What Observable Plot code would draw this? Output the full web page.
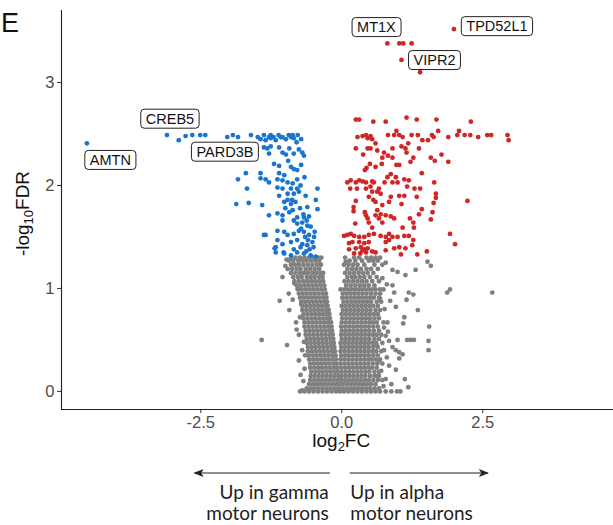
<!DOCTYPE html>
<html><head><meta charset="utf-8">
<script src="https://cdn.jsdelivr.net/npm/d3@7"></script>
<script src="https://cdn.jsdelivr.net/npm/@observablehq/plot@0.6"></script>
<style>
body{margin:0;background:#fff;}
#chart{width:613px;height:525px;}
</style>
</head><body><div id="chart"></div>
<script>
// ---------- DATA (log2FC, -log10FDR) ----------
const xTicks = [-2.5, 0, 2.5];
const yTicks = [0, 1, 2, 3];

// significant, up in gamma (blue)
const upGamma = [
[-4.52,2.41],
[-3.10,2.49],[-2.89,2.44],[-2.77,2.48],[-2.65,2.49],[-2.51,2.49],[-2.42,2.49],[-2.03,2.47],[-1.93,2.49],[-1.84,2.47],
[-1.61,2.49],[-1.49,2.47],[-1.38,2.49],[-1.29,2.47],[-1.21,2.47],[-1.08,2.47],[-0.90,2.47],[-0.78,2.49],
[-1.26,2.49],[-1.12,2.49],[-1.05,2.47],[-0.94,2.49],[-0.87,2.49],
[-1.44,2.45],[-1.35,2.44],[-1.26,2.46],[-1.17,2.44],[-1.08,2.47],[-0.99,2.45],[-0.85,2.46],
[-1.38,2.37],[-1.32,2.36],[-1.26,2.38],[-1.11,2.37],[-0.93,2.36],[-0.76,2.35],[-0.70,2.32],
[-1.29,2.31],[-1.05,2.32],[-0.99,2.30],[-0.85,2.31],[-0.67,2.29],
[-1.20,2.21],[-1.11,2.19],[-0.90,2.18],[-0.85,2.16],[-0.79,2.15],[-1.11,2.12],[-1.02,2.10],[-1.44,2.12],[-1.70,2.12],
[-1.84,2.06],[-1.44,2.07],[-1.35,2.06],[-1.29,2.03],[-1.14,2.06],[-1.05,2.05],[-0.96,2.03],[-0.87,2.02],[-0.79,2.06],
[-1.68,1.97],[-1.14,1.98],[-1.05,1.97],[-0.90,1.97],[-0.79,1.97],[-0.43,1.97],
[-1.11,1.90],[-0.96,1.92],[-0.85,1.92],[-0.76,1.94],[-0.64,1.90],
[-1.87,1.82],[-1.65,1.83],[-1.41,1.81],[-1.02,1.84],[-0.96,1.86],[-0.90,1.82],[-0.82,1.84],[-0.46,1.86],[-0.61,1.79],
[-1.29,1.71],[-1.14,1.73],[-1.05,1.71],[-0.93,1.74],[-0.87,1.76],[-0.79,1.69],[-0.67,1.69],[-0.43,1.77],
[-1.05,1.66],[-0.85,1.66],[-0.79,1.63],[-0.70,1.64],[-0.61,1.61],[-0.55,1.60],
[-1.35,1.52],[-1.14,1.56],[-1.02,1.55],[-0.96,1.52],[-0.85,1.53],[-0.76,1.56],[-0.67,1.55],[-0.58,1.52],[-0.49,1.50],
[-1.14,1.47],[-1.05,1.43],[-0.90,1.45],[-0.79,1.47],[-0.70,1.43],[-0.61,1.42],[-0.52,1.45],[-1.17,1.40],
[-1.17,1.35],[-1.02,1.34],[-0.79,1.35],[-0.67,1.34],[-0.55,1.32],[-0.46,1.31],
[-0.72,1.58],[-0.65,1.50],[-0.60,1.47],[-0.57,1.38],[-0.63,1.36],[-0.50,1.40],[-0.48,1.55],[-0.73,1.40],[-0.85,1.38],
[-0.90,1.32],[-0.62,1.66],[-0.68,1.72],[-0.74,1.78],[-0.58,1.70],[-1.00,1.78],[-0.88,1.86],[-0.73,2.00],[-0.66,2.08],
[-0.95,2.24],[-0.72,2.20],[-0.80,2.42],[-0.72,2.45],[-1.38,1.52],[-1.19,1.39],[-1.03,1.35]
];

// significant, up in alpha (red)
const upAlpha = [
[1.99,3.52],[0.81,3.38],[1.02,3.38],[1.09,3.38],[1.24,3.38],[1.06,3.22],[1.39,3.10],
[0.25,2.64],[0.31,2.64],[0.56,2.62],[0.78,2.62],[1.15,2.66],[1.33,2.64],[1.68,2.64],[2.29,2.62],
[0.28,2.47],[0.37,2.48],[0.43,2.49],[0.46,2.46],[0.51,2.48],[0.54,2.45],[0.82,2.49],[0.93,2.49],[0.97,2.53],[1.02,2.49],
[1.08,2.47],[1.24,2.49],[1.35,2.49],[1.43,2.44],[1.53,2.44],[1.60,2.49],[1.63,2.47],[1.71,2.53],[1.89,2.47],[2.05,2.49],
[2.08,2.53],[2.18,2.49],[2.28,2.49],[2.42,2.47],[2.58,2.49],[2.65,2.49],[2.94,2.49],[2.96,2.44],
[0.60,2.41],[0.25,2.36],[0.46,2.36],[0.51,2.36],[0.63,2.34],[0.75,2.32],[0.90,2.36],[1.06,2.38],[1.13,2.36],[1.18,2.41],
[1.37,2.36],[0.38,2.30],[0.72,2.27],[0.82,2.29],[0.90,2.27],[1.15,2.32],[1.27,2.27],[1.58,2.27],[1.65,2.24],[1.77,2.30],[1.89,2.23],
[0.50,2.21],[0.97,2.20],[1.02,2.20],[0.60,2.18],[0.71,2.21],[0.41,2.15],[0.44,2.17],[1.22,2.23],
[0.87,2.11],[0.81,2.08],[0.96,2.08],[1.11,2.06],[1.19,2.05],[1.42,2.12],[0.10,2.03],[0.16,2.05],[0.25,2.03],[0.31,2.05],
[0.37,2.04],[0.43,2.03],[0.54,2.04],[0.57,2.03],[0.76,2.03],[0.90,2.03],[0.99,2.03],[1.64,2.03],
[0.15,1.97],[0.27,1.97],[0.43,1.97],[0.51,1.99],[0.66,1.97],[0.54,1.94],[0.63,1.94],[1.16,1.99],[1.29,1.97],[1.39,1.97],
[1.67,1.92],[1.67,1.88],[0.48,1.89],[0.56,1.86],[0.69,1.92],[0.87,1.89],[1.02,1.90],[1.11,1.90],[1.33,1.89],[0.25,1.85],
[0.60,1.84],[0.72,1.81],[0.84,1.84],[1.06,1.82],[1.42,1.77],[1.63,1.83],[2.23,1.85],
[0.21,1.79],[0.21,1.75],[0.41,1.74],[0.43,1.71],[0.63,1.76],[0.69,1.72],[0.60,1.71],[0.46,1.68],[0.66,1.68],[0.78,1.71],
[0.87,1.70],[0.93,1.68],[1.21,1.68],[1.27,1.64],[1.37,1.72],[1.61,1.74],[1.58,1.67],[0.24,1.63],[0.48,1.64],[0.54,1.59],
[0.72,1.64],[1.28,1.59],[1.08,1.59],
[0.04,1.51],[0.10,1.52],[0.16,1.53],[0.22,1.51],[0.31,1.50],[0.40,1.50],[0.48,1.52],[0.57,1.53],[0.69,1.51],[0.78,1.50],
[0.84,1.53],[0.90,1.50],[0.99,1.50],[1.11,1.51],[1.19,1.51],[1.27,1.47],[1.92,1.53],[2.01,1.43],[0.13,1.44],[0.19,1.45],
[0.31,1.45],[0.40,1.44],[0.48,1.45],[0.78,1.45],[0.84,1.47],
[0.13,1.38],[0.25,1.39],[0.34,1.40],[0.40,1.38],[0.46,1.39],[0.54,1.36],[0.60,1.35],[0.78,1.37],[0.93,1.39],[1.02,1.40],
[1.13,1.39],[1.25,1.42],[0.22,1.34],[0.33,1.34],[0.43,1.35],[1.05,1.33],[1.34,1.33],[1.51,1.36],[0.37,1.37]
];

// not significant (grey): rows of [-log10FDR, [log2FC ...]]
const notSigRows = [
[1.30,[-0.90,-0.82,-0.74,-0.66,-0.58,-0.50,-0.42,-0.36,0.06,0.22,0.31,0.44,0.52,0.60,0.68]],
[1.27,[-0.94,-0.86,-0.77,-0.70,-0.63,-0.55,-0.47,-0.40,0.14,0.24,0.36,0.48,0.56,0.64]],
[1.23,[-0.90,-0.83,-0.76,-0.68,-0.60,-0.52,-0.44,-0.37,0.04,0.12,0.20,0.28,0.40,0.58,0.72]],
[1.19,[-0.96,-0.88,-0.80,-0.73,-0.64,-0.56,-0.48,-0.40,0.10,0.18,0.26,0.34,0.44,0.52,0.64]],
[1.15,[-0.90,-0.82,-0.74,-0.67,-0.60,-0.52,-0.45,-0.38,-0.33,0.06,0.14,0.22,0.30,0.38,0.46,0.56]],
[1.11,[-0.86,-0.78,-0.71,-0.62,-0.55,-0.48,-0.40,-0.34,0.10,0.18,0.24,0.32,0.40,0.50,0.62]],
[1.07,[-0.84,-0.76,-0.68,-0.61,-0.54,-0.47,-0.40,-0.33,0.05,0.12,0.20,0.28,0.36,0.44,0.54,0.66]],
[1.03,[-0.80,-0.73,-0.66,-0.59,-0.52,-0.45,-0.38,-0.31,0.08,0.16,0.24,0.32,0.40,0.48,0.58]],
[0.99,[-0.78,-0.71,-0.64,-0.57,-0.50,-0.43,-0.36,-0.30,-0.02,0.05,0.12,0.18,0.24,0.30,0.36,0.42,0.48,0.54,0.60,0.68,0.74]],
[0.95,[-0.76,-0.69,-0.62,-0.55,-0.48,-0.41,-0.34,-0.28,0.02,0.09,0.16,0.23,0.30,0.37,0.44,0.52,0.60,0.68]],
[0.91,[-0.74,-0.67,-0.60,-0.53,-0.46,-0.39,-0.32,-0.27,0.01,0.08,0.15,0.22,0.29,0.36,0.43,0.50,0.57,0.66]],
[0.87,[-0.72,-0.65,-0.58,-0.51,-0.44,-0.37,-0.30,-0.26,0.03,0.10,0.17,0.24,0.31,0.38,0.45,0.52,0.62,0.70]],
[0.83,[-0.70,-0.63,-0.56,-0.49,-0.42,-0.35,-0.28,-0.25,0.00,0.07,0.14,0.21,0.28,0.35,0.42,0.49,0.56,0.64]],
[0.79,[-0.70,-0.63,-0.56,-0.49,-0.42,-0.35,-0.28,-0.23,0.02,0.09,0.16,0.23,0.30,0.37,0.44,0.51,0.60,0.68]],
[0.75,[-0.68,-0.61,-0.54,-0.47,-0.40,-0.33,-0.27,-0.22,0.00,0.07,0.14,0.21,0.28,0.35,0.42,0.49,0.56,0.63]],
[0.71,[-0.68,-0.61,-0.54,-0.47,-0.40,-0.33,-0.26,-0.21,0.01,0.08,0.15,0.22,0.29,0.36,0.43,0.50,0.58,0.66]],
[0.67,[-0.66,-0.59,-0.52,-0.45,-0.38,-0.31,-0.24,-0.19,0.00,0.07,0.14,0.21,0.28,0.35,0.42,0.49,0.55,0.62,0.74]],
[0.63,[-0.66,-0.59,-0.52,-0.45,-0.38,-0.31,-0.24,-0.18,-0.01,0.06,0.13,0.20,0.27,0.34,0.41,0.48,0.56,0.64]],
[0.59,[-0.64,-0.57,-0.50,-0.43,-0.36,-0.29,-0.22,-0.17,0.00,0.07,0.14,0.21,0.28,0.35,0.42,0.49,0.57,0.66]],
[0.55,[-0.64,-0.57,-0.50,-0.43,-0.36,-0.29,-0.22,-0.16,-0.01,0.06,0.13,0.20,0.27,0.34,0.41,0.48,0.55,0.62,0.70]],
[0.51,[-0.62,-0.55,-0.48,-0.41,-0.34,-0.27,-0.20,-0.15,0.00,0.07,0.14,0.21,0.28,0.35,0.42,0.49,0.58,0.66]],
[0.47,[-0.62,-0.55,-0.48,-0.41,-0.34,-0.27,-0.20,-0.14,-0.02,0.05,0.12,0.19,0.26,0.33,0.40,0.47,0.54,0.61,0.72]],
[0.43,[-0.60,-0.53,-0.46,-0.39,-0.32,-0.25,-0.18,-0.13,-0.01,0.06,0.13,0.20,0.27,0.34,0.41,0.48,0.56,0.64]],
[0.39,[-0.60,-0.53,-0.46,-0.39,-0.32,-0.25,-0.18,-0.12,-0.02,0.05,0.12,0.19,0.26,0.33,0.40,0.47,0.54,0.61,0.70]],
[0.35,[-0.58,-0.51,-0.44,-0.37,-0.30,-0.23,-0.16,-0.11,-0.01,0.06,0.13,0.20,0.27,0.34,0.41,0.48,0.56,0.64]],
[0.31,[-0.58,-0.51,-0.44,-0.37,-0.30,-0.23,-0.16,-0.10,-0.02,0.05,0.12,0.19,0.26,0.33,0.40,0.47,0.53,0.60,0.68]],
[0.27,[-0.56,-0.49,-0.42,-0.35,-0.28,-0.21,-0.14,-0.09,-0.02,0.05,0.12,0.19,0.26,0.33,0.40,0.47,0.55,0.63,0.72]],
[0.23,[-0.56,-0.49,-0.42,-0.35,-0.28,-0.21,-0.14,-0.08,-0.01,0.06,0.13,0.20,0.27,0.34,0.41,0.48,0.54,0.62]],
[0.19,[-0.54,-0.47,-0.40,-0.33,-0.26,-0.19,-0.12,-0.07,0.00,0.07,0.14,0.21,0.28,0.35,0.42,0.49,0.58,0.66]],
[0.15,[-0.55,-0.48,-0.41,-0.34,-0.27,-0.20,-0.13,-0.06,0.00,0.07,0.14,0.21,0.28,0.35,0.42,0.50,0.58,0.66]],
[0.11,[-0.56,-0.49,-0.42,-0.35,-0.28,-0.21,-0.14,-0.07,-0.01,0.06,0.13,0.20,0.27,0.34,0.41,0.48,0.56,0.64,0.72]],
[0.07,[-0.58,-0.51,-0.44,-0.37,-0.30,-0.23,-0.16,-0.09,-0.03,0.03,0.10,0.17,0.24,0.31,0.38,0.45,0.52,0.60]],
[0.03,[-0.62,-0.55,-0.48,-0.41,-0.34,-0.27,-0.20,-0.13,-0.06,0.01,0.08,0.15,0.22,0.29,0.36,0.43,0.50,0.58,0.66]],
[0.00,[-0.74,-0.66,-0.58,-0.50,-0.42,-0.34,-0.26,-0.18,-0.10,-0.03,0.04,0.12,0.20,0.28,0.36,0.44,0.52,0.60,0.68,0.78,0.88,0.98,1.04]]
];
const notSigExtra = [
[0.07,1.26],[0.90,1.18],[0.99,1.16],[1.13,1.13],[1.31,1.18],[1.52,1.26],[1.58,1.22],[0.90,1.03],[0.93,0.96],[1.19,0.96],
[1.27,0.94],[1.15,0.89],[1.87,0.96],[1.92,0.99],[2.67,0.96],[1.35,0.79],[0.96,0.82],[1.11,0.72],[1.09,0.66],[1.55,0.63],
[0.99,0.50],[1.16,0.50],[1.22,0.50],[1.28,0.50],[1.54,0.49],[1.54,0.40],[0.90,0.43],[0.96,0.40],[1.02,0.38],[1.08,0.36],
[1.02,0.32],[0.84,0.25],[0.96,0.21],[1.12,0.12],[1.18,0.04],[0.88,0.07],[0.78,0.12],[0.86,0.88],[0.81,0.67],[0.75,0.62],
[0.78,0.54],[0.84,0.49],[0.75,0.40],[0.72,1.10],[0.78,1.25],[0.80,1.04],[0.66,0.30],[0.70,0.20],[0.64,0.75],[0.68,0.90],
[0.62,0.45],[0.63,0.15],[0.80,0.33],[0.76,0.80],[0.82,0.58],[0.74,0.05],
[-1.42,0.50],[-0.97,0.45],[-1.05,1.11],[-1.10,0.88],[-0.94,0.95],[-0.93,0.79],[-0.87,0.89],[-0.81,0.67],[-0.76,0.30],
[-0.73,0.16],[-0.70,0.01],[-0.80,0.60],[-0.76,0.55],[-0.74,0.72],[-0.70,0.40],[-0.68,0.10],[-0.72,0.85],[-1.00,1.22],
[-0.98,1.28],[-0.66,0.22],[-0.84,1.05],[-0.78,1.00],[-0.67,0.48],[-0.65,0.35]
];

// labelled genes
const labelGenes = ["AMTN","CREB5","PARD3B","MT1X","VIPR2","TPD52L1"];
const labelFC    = [-4.52, -3.10, -1.93, 0.81, 1.06, 1.99];
const labelFDR   = [2.41, 2.49, 2.49, 3.38, 3.22, 3.52];

// ---------- LAYOUT ----------
const labelOffset = {AMTN:[23.5,17], CREB5:[3,-16], PARD3B:[-8,17], MT1X:[-11,-16], VIPR2:[33,0.5], TPD52L1:[43,-2.5]};
const toObj = ([x,y]) => ({x,y});
const gray = notSigRows.flatMap(([y,xs]) => xs.map(x => ({x,y}))).concat(notSigExtra.map(toObj));
const blue = upGamma.map(toObj);
const red = upAlpha.map(toObj);
const labels = labelGenes.map((name,i) => ({name, x: labelFC[i], y: labelFDR[i]}));

const FONT = "'Liberation Sans', Arial, Helvetica, sans-serif";
const xDom = [-4.97, 4.82], yDom = [-0.176, 3.70];

const plot = Plot.plot({
  width: 613, height: 525,
  marginLeft: 61, marginRight: 0, marginTop: 10, marginBottom: 116,
  style: {fontFamily: FONT, fontSize: "16px", background: "white", overflow: "visible"},
  x: {domain: xDom, label: null},
  y: {domain: yDom, label: null},
  marks: [
    Plot.axisX({ticks: xTicks, tickFormat: d => d.toFixed(1), tickSize: 4, tickPadding: 3, stroke: "#333", fill: "#4d4d4d", fontSize: 16.5, label: null}),
    Plot.axisY({ticks: yTicks, tickFormat: d => String(d), tickSize: 4, tickPadding: 3, stroke: "#333", fill: "#4d4d4d", fontSize: 16.5, label: null}),
    Plot.ruleX([xDom[0]], {stroke: "#222", strokeWidth: 1.1}),
    Plot.ruleY([yDom[0]], {stroke: "#222", strokeWidth: 1.1}),
    Plot.dot(gray, {x: "x", y: "y", r: 2.4, fill: "#808080"}),
    Plot.dot(blue, {x: "x", y: "y", r: 2.4, fill: "#1b75cf"}),
    Plot.dot(red, {x: "x", y: "y", r: 2.4, fill: "#cf2626"}),
    ...labels.map(g => Plot.text([g], {x: "x", y: "y", text: "name", dx: labelOffset[g.name][0], dy: labelOffset[g.name][1],
      fontSize: 14.5, fill: "#111", textAnchor: "middle", lineAnchor: "middle"}))
  ]
});
document.getElementById("chart").appendChild(plot);

const svg = d3.select(plot);
const sx = plot.scale("x"), sy = plot.scale("y");
const frameBottom = sy.apply(yDom[0]);
const frameLeft = sx.apply(xDom[0]);
const frameTop = sy.apply(yDom[1]);

// boxes behind gene labels
const nameSet = new Set(labelGenes);
svg.selectAll("text").filter(function(){ return nameSet.has(this.textContent); }).each(function(){
  const bb = this.getBBox();
  const r = document.createElementNS("http://www.w3.org/2000/svg","rect");
  r.setAttribute("x", bb.x - 5); r.setAttribute("y", bb.y - 1.5);
  r.setAttribute("width", bb.width + 10); r.setAttribute("height", bb.height + 3);
  r.setAttribute("rx", 3.5); r.setAttribute("fill", "white"); r.setAttribute("stroke", "#222"); r.setAttribute("stroke-width", 1);
  const tf = this.getAttribute("transform"); if (tf) r.setAttribute("transform", tf);
  this.parentNode.insertBefore(r, this);
});

// axis titles with subscripts
const xt = svg.append("text").attr("x", sx.apply(0)).attr("y", frameBottom + 38)
  .attr("text-anchor", "middle").attr("font-size", 19).attr("fill", "#111").attr("font-family", FONT);
xt.append("tspan").text("log");
xt.append("tspan").text("2").attr("font-size", 13).attr("dy", 4);
xt.append("tspan").text("FC").attr("dy", -4);

const yc = (frameTop + frameBottom) / 2 + 4;
const yt = svg.append("text").attr("transform", `translate(${frameLeft - 32},${yc}) rotate(-90)`)
  .attr("text-anchor", "middle").attr("font-size", 19).attr("fill", "#111").attr("font-family", FONT);
yt.append("tspan").text("-log");
yt.append("tspan").text("10").attr("font-size", 13).attr("dy", 4);
yt.append("tspan").text("FDR").attr("dy", -4);

// panel letter
svg.append("text").attr("x", 10).attr("y", 32).attr("font-size", 27).attr("fill", "#111").attr("font-family", FONT).text("E");

// direction arrows and captions
const defs = svg.append("defs");
defs.append("marker").attr("id", "ah").attr("viewBox", "0 0 10 8").attr("refX", 9).attr("refY", 4)
  .attr("markerWidth", 10).attr("markerHeight", 8).attr("markerUnits", "userSpaceOnUse").attr("orient", "auto")
  .append("path").attr("d", "M0,0 L10,4 L0,8 L2.5,4 Z").attr("fill", "#222");
const ay = frameBottom + 64;
svg.append("line").attr("x1", sx.apply(-0.2)).attr("x2", sx.apply(-2.6)).attr("y1", ay).attr("y2", ay)
  .attr("stroke", "#222").attr("stroke-width", 1.2).attr("marker-end", "url(#ah)");
svg.append("line").attr("x1", sx.apply(0.15)).attr("x2", sx.apply(2.6)).attr("y1", ay).attr("y2", ay)
  .attr("stroke", "#222").attr("stroke-width", 1.2).attr("marker-end", "url(#ah)");
const CF = "Lato, 'Open Sans', sans-serif";
const capL = svg.append("text").attr("text-anchor", "end").attr("font-size", 19).attr("fill", "#222").attr("font-family", CF);
capL.append("tspan").attr("x", sx.apply(-0.22)).attr("y", ay + 26).text("Up in gamma");
capL.append("tspan").attr("x", sx.apply(-0.22)).attr("y", ay + 47).text("motor neurons");
const capR = svg.append("text").attr("text-anchor", "start").attr("font-size", 19).attr("fill", "#222").attr("font-family", CF);
capR.append("tspan").attr("x", sx.apply(0.16)).attr("y", ay + 26).text("Up in alpha");
capR.append("tspan").attr("x", sx.apply(0.16)).attr("y", ay + 47).text("motor neurons");
</script>
</body></html>
